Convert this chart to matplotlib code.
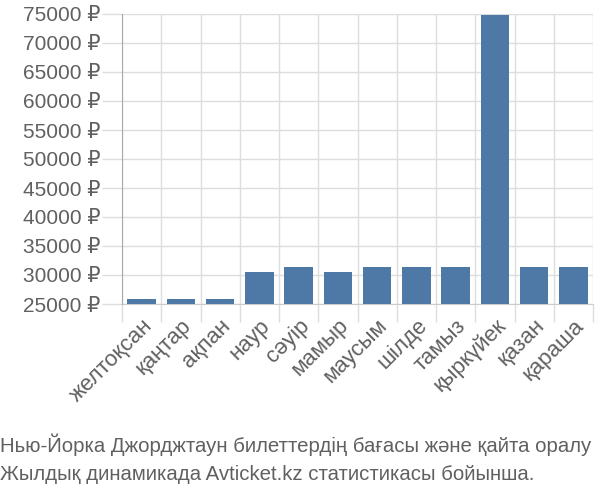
import matplotlib
matplotlib.use("Agg")
import matplotlib.pyplot as plt
import numpy as np
from matplotlib.ticker import FixedLocator, FuncFormatter

months = ["желтоқсан", "қаңтар", "ақпан", "наур", "сәуір", "мамыр",
          "маусым", "шілде", "тамыз", "қыркүйек", "қазан", "қараша"]
prices = [25900, 25900, 25900, 30500, 31400, 30500,
          31400, 31400, 31400, 74800, 31400, 31400]
yticks = [25000, 30000, 35000, 40000, 45000, 50000, 55000,
          60000, 65000, 70000, 75000]
caption = ["Нью-Йорка Джорджтаун билеттердің бағасы және қайта оралу",
           "Жылдық динамикада Avticket.kz статистикасы бойынша."]

plt.rcParams['font.family'] = ['Liberation Sans', 'DejaVu Sans']
txt = "#606060"
grid = "#dddddd"

fig = plt.figure(figsize=(6, 5), dpi=100)
ax = fig.add_axes([122/600, 1-304/500, (593-122)/600, (304-14)/500])
x = np.arange(len(months))
ax.bar(x, prices, width=0.72, color="#4e79a7", bottom=0, zorder=3)
ax.set_xlim(-0.5, len(months)-0.5)
ax.set_ylim(25000, 75000)

ax.yaxis.set_major_locator(FixedLocator(yticks))
ax.yaxis.set_major_formatter(FuncFormatter(lambda v, p: f"{int(v)} ₽"))
ax.tick_params(axis='y', length=14.5, width=1, color=grid, labelsize=15, labelcolor=txt, pad=1)
ax.grid(axis='y', color=grid, linewidth=1, zorder=0)

ax.set_xticks(x)
ax.set_xticklabels(months, rotation=45, ha='right', va='top', rotation_mode='anchor')
ax.tick_params(axis='x', which='major', length=0, labelsize=16, labelcolor=txt, pad=8)
ax.set_xticks(np.arange(-0.5, len(months)), minor=True)
ax.tick_params(axis='x', which='minor', length=13, width=1, color=grid)
ax.grid(axis='x', which='minor', color=grid, linewidth=1, zorder=0)

for s in ['top', 'right']:
    ax.spines[s].set_visible(False)
ax.spines['left'].set_color("#aaaaaa")
ax.spines['bottom'].set_color("#cccccc")
ax.spines['left'].set_zorder(4)

fig.text(0.0, 1-445/500, caption[0], fontsize=14.7, color=txt, ha='left', va='center')
fig.text(0.0, 1-475/500, caption[1], fontsize=14.7, color=txt, ha='left', va='center')

fig.savefig("out.png", dpi=100)
